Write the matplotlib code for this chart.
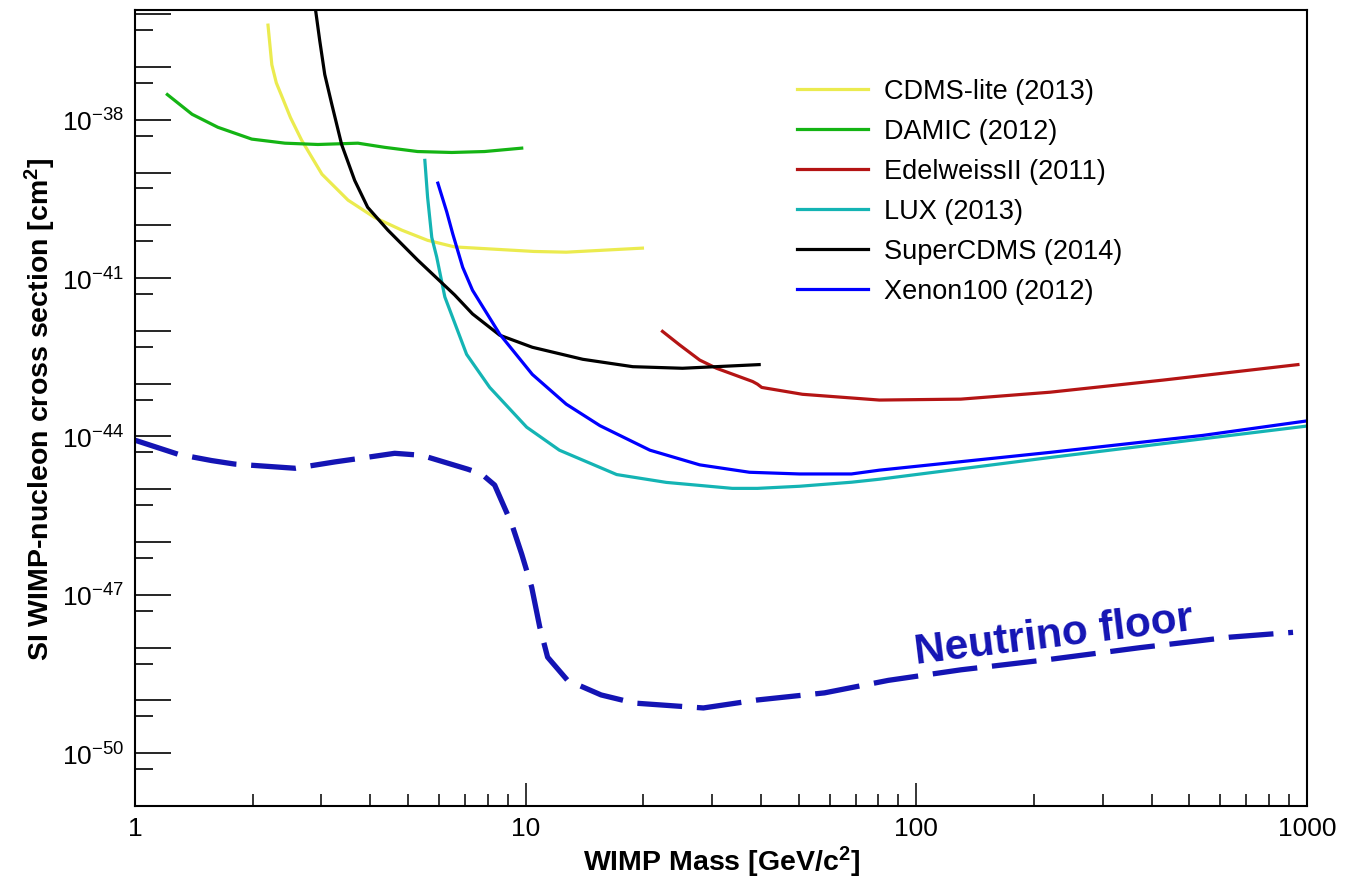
import numpy as np
import matplotlib
matplotlib.use("Agg")
import matplotlib.pyplot as plt
from matplotlib.ticker import FixedLocator, FuncFormatter, NullFormatter

plt.rcParams['font.family'] = ['Liberation Sans', 'DejaVu Sans']
plt.rcParams['mathtext.fontset'] = 'custom'
plt.rcParams['mathtext.rm'] = 'Liberation Sans'
plt.rcParams['mathtext.it'] = 'Liberation Sans:italic'
plt.rcParams['mathtext.bf'] = 'Liberation Sans:bold'

# --- data (mass in GeV/c^2, cross section in cm^2) ---
cdms_lite_mass = [2.19, 2.24, 2.30, 2.38, 2.50, 2.67, 3.01, 3.51, 4.11, 4.82, 5.61, 6.58, 10.5,
                  12.7, 19.9]
cdms_lite_xs = [6.2e-37, 1.1e-37, 5.0e-38, 2.7e-38, 1.1e-38, 4.1e-39, 9.3e-40, 3.0e-40, 1.4e-40,
                8.1e-41, 5.2e-41, 3.9e-41, 3.2e-41, 3.1e-41, 3.7e-41]

damic_mass = [1.21, 1.40, 1.63, 1.99, 2.42, 2.94, 3.72, 4.36, 5.29, 6.47, 7.85, 9.77]
damic_xs = [3.0e-38, 1.27e-38, 7.2e-39, 4.3e-39, 3.6e-39, 3.4e-39, 3.6e-39, 3.0e-39, 2.5e-39,
            2.4e-39, 2.5e-39, 2.9e-39]

edelweiss_mass = [22.4, 24.8, 27.9, 30.8, 38.1, 39.2, 40.2, 51.1, 80.4, 130, 220, 428, 948]
edelweiss_xs = [9.8e-43, 5.4e-43, 2.8e-43, 1.96e-43, 1.1e-43, 9.8e-44, 8.5e-44, 6.3e-44, 4.9e-44,
                5.1e-44, 6.9e-44, 1.17e-43, 2.3e-43]

lux_mass = [5.52, 5.61, 5.75, 5.92, 6.21, 7.06, 8.09, 10.06, 12.2, 17.1, 22.9, 33.8, 39.2, 50.2,
            68.2, 80.4, 220, 988]
lux_xs = [1.7e-39, 3.4e-40, 5.9e-41, 2.5e-41, 4.4e-42, 3.6e-43, 8.5e-44, 1.5e-44, 5.5e-45, 1.9e-45,
          1.35e-45, 1.04e-45, 1.04e-45, 1.14e-45, 1.36e-45, 1.55e-45, 4.0e-45, 1.56e-44]

supercdms_mass = [2.85, 2.97, 3.06, 3.19, 3.38, 3.65, 3.94, 4.44, 5.29, 6.58, 7.31, 8.58, 10.4,
                  14.0, 18.8, 25.2, 39.6]
supercdms_xs = [3e-36, 3.2e-37, 7.2e-38, 1.96e-38, 3.4e-39, 7.1e-40, 2.2e-40, 8.1e-41, 2.2e-41,
                4.8e-42, 2.1e-42, 8.3e-43, 4.9e-43, 2.9e-43, 2.1e-43, 1.96e-43, 2.3e-43]

xenon_mass = [5.96, 6.28, 6.51, 6.90, 7.31, 8.58, 10.4, 12.7, 15.5, 20.8, 27.9, 37.4, 50.2, 68.2,
              80.4, 220, 542, 988]
xenon_xs = [6.3e-40, 1.8e-40, 6.8e-41, 1.6e-41, 5.9e-42, 8.7e-43, 1.5e-43, 4.1e-44, 1.6e-44,
            5.5e-45, 2.9e-45, 2.1e-45, 1.95e-45, 1.95e-45, 2.3e-45, 5.0e-45, 1.05e-44, 1.95e-44]

nu_floor_mass = [1.0, 1.29, 1.57, 1.80, 2.57, 3.25, 3.81, 4.62, 5.42, 7.11, 7.71, 8.33, 9.21, 9.77,
                 10.36, 10.86, 11.38, 12.8, 15.6, 19.0, 28.5, 39.2, 58.2, 84.8, 130, 220, 374, 635,
                 921]
nu_floor_xs = [8.5e-45, 4.6e-45, 3.5e-45, 3.0e-45, 2.5e-45, 3.3e-45, 3.9e-45, 4.8e-45, 4.4e-45,
               2.4e-45, 1.95e-45, 1.2e-45, 2.2e-46, 5.9e-47, 1.4e-47, 2.5e-48, 6.6e-49, 2.4e-49,
               1.27e-49, 8.9e-50, 7.2e-50, 1.02e-49, 1.39e-49, 2.4e-49, 3.8e-49, 6.0e-49, 1.0e-48,
               1.58e-48, 1.95e-48]

curves = [
    ("CDMS-lite (2013)", cdms_lite_mass, cdms_lite_xs, '#ebeb4f'),
    ("DAMIC (2012)", damic_mass, damic_xs, '#14b414'),
    ("EdelweissII (2011)", edelweiss_mass, edelweiss_xs, '#b41414'),
    ("LUX (2013)", lux_mass, lux_xs, '#14b4b4'),
    ("SuperCDMS (2014)", supercdms_mass, supercdms_xs, 'black'),
    ("Xenon100 (2012)", xenon_mass, xenon_xs, '#0000ff'),
]

x_ticks = [1, 10, 100, 1000]
y_decades = list(range(-51, -35))
y_labelled = [-50, -47, -44, -41, -38]

fig = plt.figure(figsize=(13.46, 8.78), dpi=100)
ax = fig.add_axes([135 / 1346, 1 - 807 / 878, (1307 - 135) / 1346, (807 - 11) / 878])

nu_color = '#1414b4'
ax.plot(nu_floor_mass, nu_floor_xs, color=nu_color, lw=3.8, dashes=(8.5, 2.8))

for label, m, xs, c in curves:
    ax.plot(m, xs, color=c, lw=2.3, label=label)

ax.set_xscale('log')
ax.set_yscale('log')
ax.set_xlim(1, 1000)
ax.set_ylim(1e-51, 1.2e-36)

# x ticks
ax.xaxis.set_major_locator(FixedLocator(x_ticks))
ax.xaxis.set_major_formatter(FuncFormatter(lambda v, p: f"{v:g}"))
x_minor = [k * 10 ** d for d in range(3) for k in range(2, 10)]
ax.xaxis.set_minor_locator(FixedLocator(x_minor))
ax.xaxis.set_minor_formatter(NullFormatter())

# y ticks
ax.yaxis.set_major_locator(FixedLocator([10.0 ** e for e in y_decades]))
ax.yaxis.set_major_formatter(FuncFormatter(
    lambda v, p: f"$10^{{{int(round(np.log10(v)))}}}$" if int(round(np.log10(v))) in y_labelled else ""))
ax.yaxis.set_minor_locator(FixedLocator([5 * 10.0 ** e for e in y_decades]))
ax.yaxis.set_minor_formatter(NullFormatter())

ax.tick_params(axis='x', which='major', direction='in', length=16.5, width=1.1, labelsize=19, pad=7,
               top=False)
ax.tick_params(axis='x', which='minor', direction='in', length=8.5, width=1.1, top=False)
ax.tick_params(axis='y', which='major', direction='in', length=26, width=1.2, labelsize=19, pad=8,
               right=False)
ax.tick_params(axis='y', which='minor', direction='in', length=13, width=1.2, right=False)
for s in ax.spines.values():
    s.set_linewidth(1.5)

ax.set_xlabel(r"WIMP Mass [GeV/c$^{\mathbf{2}}$]", fontsize=20.5, fontweight='bold')
ax.xaxis.label.set_va('center')
ax.xaxis.set_label_coords(0.5, -(862 - 807) / 796)
ax.set_ylabel(r"SI WIMP-nucleon cross section [cm$^{\mathbf{2}}$]", fontsize=20.5, fontweight='bold')
ax.yaxis.label.set_va('center')
ax.yaxis.set_label_coords(-(135 - 40) / 1172, 0.5)

ax.text(225, 1.75e-48, "Neutrino floor", color=nu_color, fontsize=30.5, fontweight='bold',
        rotation=7, rotation_mode='anchor', ha='center', va='center')

ax.legend(loc='upper left', bbox_to_anchor=((797 - 135) / 1172, (807 - 79) / 796), frameon=False,
          fontsize=19.5, handlelength=2.62, handletextpad=0.6, labelspacing=0.52,
          borderpad=0, borderaxespad=0)

fig.savefig("out.png", dpi=100)
